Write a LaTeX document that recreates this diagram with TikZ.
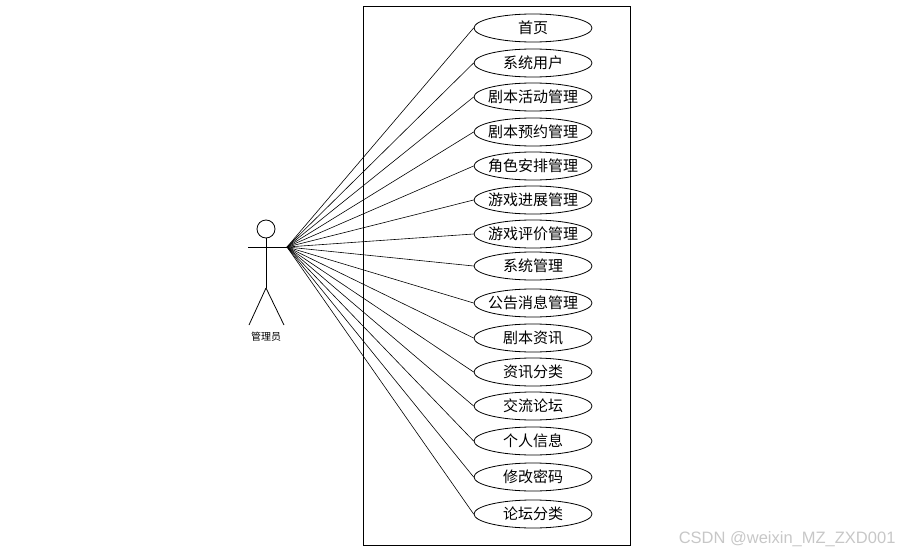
\documentclass[tikz,border=0pt]{standalone}
\usepackage{fontspec}
\setmainfont{Liberation Sans}
\newfontfamily\cjk{Noto Sans CJK SC}
\usetikzlibrary{positioning,shapes}

\begin{document}
\begin{tikzpicture}[
  x=1pt, y=-1pt,
  every node/.style={font=\cjk\fontsize{15}{16}\selectfont},
  usecase/.style={ellipse, draw, line width=0.8pt, minimum width=118pt,
                  minimum height=28pt, inner xsep=-10pt, inner ysep=0pt},
  link/.style={line width=0.6pt},
  stick/.style={line width=0.8pt}
]
  \useasboundingbox (0,0) rectangle (903,554);
  \draw[line width=0.8pt] (363,6) rectangle (630,545);

  % actor
  \node[circle, draw, line width=0.8pt, minimum size=18pt, inner sep=0pt] (head) at (266,229) {};
  \draw[stick] (head.south) -- (266,288) coordinate (hip);
  \draw[stick] (248,247) -- (287,247) coordinate (hand);
  \draw[stick] (hip) -- (249,325);
  \draw[stick] (hip) -- (284,325);
  \node[font=\cjk\fontsize{10}{12}\selectfont] (actor) at (266,337) {管理员};

  % use cases
  \node[usecase] (u1)  at (533,28)  {首页};
  \node[usecase] (u2)  at (533,63)  {系统用户};
  \node[usecase] (u3)  at (533,97)  {剧本活动管理};
  \node[usecase] (u4)  at (533,132) {剧本预约管理};
  \node[usecase] (u5)  at (533,166) {角色安排管理};
  \node[usecase] (u6)  at (533,200) {游戏进展管理};
  \node[usecase] (u7)  at (533,234) {游戏评价管理};
  \node[usecase] (u8)  at (533,266) {系统管理};
  \node[usecase] (u9)  at (533,303) {公告消息管理};
  \node[usecase] (u10) at (533,338) {剧本资讯};
  \node[usecase] (u11) at (533,372) {资讯分类};
  \node[usecase] (u12) at (533,406) {交流论坛};
  \node[usecase] (u13) at (533,441) {个人信息};
  \node[usecase] (u14) at (533,477) {修改密码};
  \node[usecase] (u15) at (533,514) {论坛分类};

  \foreach \i in {1,...,15}
    \draw[link] (hand) -- (u\i.west);

  \node[font=\fontsize{16.5}{18}\selectfont, text=black!22, anchor=east] (mark) at (899,539) {CSDN @weixin\_MZ\_ZXD001};
\end{tikzpicture}
\end{document}
